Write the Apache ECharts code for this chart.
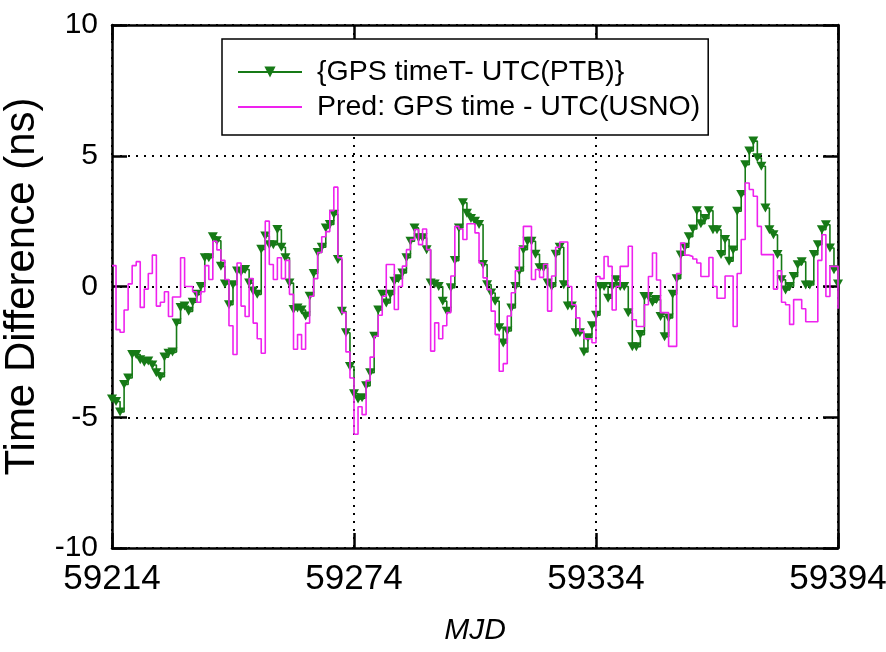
<!DOCTYPE html>
<html><head><meta charset="utf-8">
<script src="https://cdn.jsdelivr.net/npm/echarts@6/dist/echarts.min.js"></script>
<style>html,body{margin:0;padding:0;background:#fff}#c{width:886px;height:652px}</style>
</head><body><div id="c"></div>
<script>
const mjdStart = 59214;
const xTickLabels = ['59214', '59274', '59334', '59394'];
const seriesNames = ['{GPS timeT- UTC(PTB)}', 'Pred: GPS time - UTC(USNO)'];
// daily values, day index 0 = MJD 59214
const ptb = [
  -4.3, -4.4, -4.8, -3.75, -3.5, -2.6, -2.6, -2.8, -2.9, -2.85,
  -3.0, -3.3, -3.45, -2.7, -2.55, -2.5, -1.4, -0.8, -0.75, -0.95,
  -0.6, -0.3, 0.0, 1.1, 1.1, 1.9, 1.75, 0.77, 0.1, -0.7,
  0.07, 0.59, 0.55, 0.65, 0.13, -0.17, -0.3, 1.42, 1.93, 1.6,
  1.6, 2.18, 1.5, 1.1, 0.13, -0.88, -0.82, -0.9, -1.13, -0.37,
  0.5, 1.3, 1.5, 2.24, 2.37, 2.76, 1.03, -0.95, -1.77, -3.06,
  -4.1, -4.3, -4.25, -3.8, -3.3, -1.9, -0.9, -0.3, -0.63, -0.3,
  0.2, 0.3, 0.52, 1.1, 1.73, 2.24, 1.86, 1.86, 1.41, 0.13,
  0.1, 0.0, -0.56, -0.95, -0.05, 0.99, 2.24, 3.2, 2.8, 2.6,
  2.5, 2.37, 0.84, 0.07, -0.25, -0.56, -1.58, -2.16, -1.7, -0.82,
  0.0, 0.59, 1.41, 1.73, 1.73, 1.23, 0.72, 0.72, 0.13, 0.0,
  1.23, 1.5, 0.07, -0.75, -0.75, -1.77, -1.77, -2.5, -1.96, -1.5,
  -1.1, 0.0, 0.0, -0.45, 0.0, 0.26, 0.0, 0.0, -1.0, -2.3,
  -2.3, -1.84, -0.38, -0.38, -0.6, -0.5, -1.15, -1.92, -1.2, -0.3,
  0.3, 1.2, 1.5, 1.9, 2.2, 2.9, 2.4, 2.6, 2.9, 2.17,
  2.17, 1.22, 1.8, 0.97, 1.4, 2.88, 3.52, 4.66, 5.18, 5.56,
  4.92, 4.6, 3.0, 2.17, 1.98, 1.22, 0.26, -0.13, 0.0, 0.38,
  0.83, 0.95, 0.06, 0.06, 1.22, 1.6, 2.17, 2.36, 1.47, 0.64, 0.1
];
const pred = [
  0.8, -1.65, -1.75, -0.9, 0.1, 0.8, 0.95, -0.8, -0.1, 0.5,
  1.2, -0.75, -0.6, -0.2, -1.15, -0.4, -0.4, 1.1, 0, 0,
  -0.2, -0.6, -0.2, 0.8, 0.27, 1.73, 1.4, 1.0, 0.27, -1.5,
  -2.6, 0.9, -0.75, -1.15, 0.3, -1.4, -2.0, -2.55, 2.5, 0.84,
  0.27, 1.1, 0.3, 1.0, -0.3, -2.4, -1.84, -2.4, -1.4, -0.37,
  0.3, 1.3, 1.9, 2.1, 2.9, 3.8, 1.1, -1.0, -2.5, -3.5,
  -5.65, -4.6, -4.9, -3.6, -2.7, -1.9, -1.1, -0.37, 0.84, 0.84,
  -0.88, 0, 0.78, 1.41, 1.8, 2.18, 1.6, 2.2, 1.41, -2.47,
  -1.39, -2.0, -1.5, -1.0, 0.4, 2.3, 2.2, 1.8, 2.4, 2.4,
  2.05, 0.9, 0.33, -0.12, -0.94, -1.84, -3.24, -2.95, -1.13, -0.24,
  0.6, 1.5, 2.3, 2.3, 0.27, 0.65, 0.35, 0.85, -0.94, 0.4,
  1.5, 1.7, 1.7, 0.0, -0.7, -1.2, -1.7, -2.0, -2.0, -2.15,
  0.38, 0.3, 1.15, 0.77, -0.9, 0.0, 0.77, 0.77, 1.54, -1.27,
  -1.53, -1.53, -0.7, 0.38, 1.28, 0.25, -1.0, -1.0, -2.29, -2.29,
  0.5, 1.66, 1.2, 1.15, 1.05, 0.9, 0.38, 0.38, 1.11, 0.0,
  -0.45, -0.45, 0.4, 0.4, -1.53, 0.5, 1.8, 3.96, 3.71, 3.45,
  2.3, 1.22, 1.22, 1.22, -0.1, 0.6, -0.6, -0.7, -1.45, -0.5,
  -0.5, -0.85, -1.35, -1.35, -1.35, 1.0, 1.98, -0.38, 0.77, 0.77, -0.85
];

const FONT = "'Liberation Sans', Arial, sans-serif";
const GREEN = '#167a16', MAGENTA = '#ee22ee';
const chart = echarts.init(document.getElementById('c'), null, {renderer: 'canvas'});
const dotted = {show: true, lineStyle: {color: '#000', width: 2, type: [2, 6]}};
const tickStyle = {show: true, inside: true, length: 15, lineStyle: {color: '#000', width: 2.5}};
const lineAxis = {show: true, onZero: false, lineStyle: {color: '#000', width: 2.5}};
const xBase = {type: 'value', min: 0, max: 180, interval: 60, axisLine: lineAxis, axisTick: tickStyle};
const yBase = {type: 'value', min: -10, max: 10, interval: 5, axisLine: lineAxis, axisTick: tickStyle};

chart.setOption({
  animation: false,
  backgroundColor: '#fff',
  textStyle: {fontFamily: FONT},
  grid: {left: 112, right: 48, top: 25, bottom: 104, containLabel: false, outerBoundsMode: 'none'},
  legend: {
    data: [
      {name: seriesNames[0]},
      {name: seriesNames[1], itemStyle: {opacity: 0}}
    ],
    orient: 'vertical',
    left: 222, top: 39,
    backgroundColor: '#fff',
    borderColor: '#000', borderWidth: 1.5, borderRadius: 0,
    padding: [18, 8, 13, 15],
    itemWidth: 64, itemHeight: 14, itemGap: 5,
    textStyle: {fontFamily: FONT, fontSize: 28.5, lineHeight: 30, color: '#000', padding: [0, 0, 0, 10]},
    z: 10
  },
  xAxis: [
    Object.assign({}, xBase, {
      position: 'bottom',
      splitLine: dotted,
      axisLabel: {color: '#000', fontSize: 35, fontFamily: FONT, margin: 14,
        formatter: v => xTickLabels[Math.round(v / 60)]},
      name: 'MJD', nameLocation: 'middle', nameGap: 68,
      nameTextStyle: {color: '#000', fontSize: 30, fontStyle: 'italic', fontFamily: FONT}
    }),
    Object.assign({}, xBase, {position: 'top', splitLine: {show: false}, axisLabel: {show: false}})
  ],
  yAxis: [
    Object.assign({}, yBase, {
      position: 'left',
      splitLine: dotted,
      axisLabel: {color: '#000', fontSize: 30, fontFamily: FONT, margin: 14},
      name: 'Time Difference (ns)', nameLocation: 'middle', nameGap: 60,
      nameTextStyle: {color: '#000', fontSize: 42, fontFamily: FONT}
    }),
    Object.assign({}, yBase, {position: 'right', splitLine: {show: false}, axisLabel: {show: false}})
  ],
  series: [
    {
      name: seriesNames[0], type: 'line', step: 'end',
      data: ptb.map((v, i) => [i, v]),
      symbol: 'triangle', symbolSize: [10, 9], symbolRotate: 180, showSymbol: true,
      lineStyle: {color: GREEN, width: 1.6},
      itemStyle: {color: GREEN},
      z: 2
    },
    {
      name: seriesNames[1], type: 'line', step: 'end',
      data: pred.map((v, i) => [i, v]),
      symbol: 'none',
      lineStyle: {color: MAGENTA, width: 1.6},
      itemStyle: {color: MAGENTA},
      z: 3
    }
  ]
});
</script>
</body></html>
